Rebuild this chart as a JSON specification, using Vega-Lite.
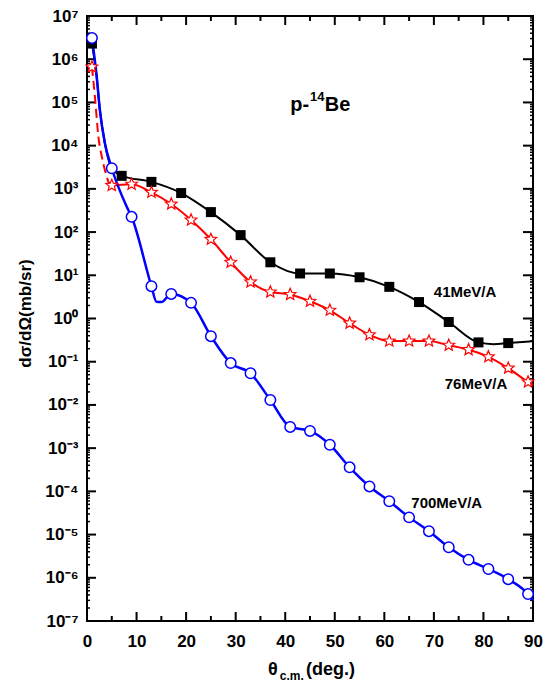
{
"$schema": "https://vega.github.io/schema/vega-lite/v6.json",
"width": 446, "height": 605,
"autosize": {"type": "none"},
"padding": {"left": 87, "top": 16, "right": 21, "bottom": 69},
"background": "white",
"config": {
  "view": {"stroke": "black", "strokeWidth": 2},
  "font": "Liberation Sans",
  "axis": {"domain": false, "ticks": false, "grid": false, "labelColor": "black", "labelFont": "Liberation Sans", "labelFontWeight": "bold", "labelFontSize": 17, "labelFlush": false, "labelOverlap": false, "titleColor": "black"}
},
"datasets": {
  "ticks": [
    {"ax":"x","v":0,"major":1},{"ax":"x","v":5,"major":0},{"ax":"x","v":10,"major":1},{"ax":"x","v":15,"major":0},{"ax":"x","v":20,"major":1},{"ax":"x","v":25,"major":0},{"ax":"x","v":30,"major":1},{"ax":"x","v":35,"major":0},{"ax":"x","v":40,"major":1},{"ax":"x","v":45,"major":0},{"ax":"x","v":50,"major":1},{"ax":"x","v":55,"major":0},{"ax":"x","v":60,"major":1},{"ax":"x","v":65,"major":0},{"ax":"x","v":70,"major":1},{"ax":"x","v":75,"major":0},{"ax":"x","v":80,"major":1},{"ax":"x","v":85,"major":0},{"ax":"x","v":90,"major":1},
    {"ax":"y","v":1e-7,"major":1},{"ax":"y","v":1e-6,"major":1},{"ax":"y","v":1e-5,"major":1},{"ax":"y","v":1e-4,"major":1},{"ax":"y","v":1e-3,"major":1},{"ax":"y","v":1e-2,"major":1},{"ax":"y","v":0.1,"major":1},{"ax":"y","v":1,"major":1},{"ax":"y","v":10,"major":1},{"ax":"y","v":100,"major":1},{"ax":"y","v":1000,"major":1},{"ax":"y","v":1e4,"major":1},{"ax":"y","v":1e5,"major":1},{"ax":"y","v":1e6,"major":1},{"ax":"y","v":1e7,"major":1},
    {"ax":"y","v":2e-7,"major":0},{"ax":"y","v":3e-7,"major":0},{"ax":"y","v":4e-7,"major":0},{"ax":"y","v":5e-7,"major":0},{"ax":"y","v":6e-7,"major":0},{"ax":"y","v":7e-7,"major":0},{"ax":"y","v":8e-7,"major":0},{"ax":"y","v":9e-7,"major":0},
    {"ax":"y","v":2e-6,"major":0},{"ax":"y","v":3e-6,"major":0},{"ax":"y","v":4e-6,"major":0},{"ax":"y","v":5e-6,"major":0},{"ax":"y","v":6e-6,"major":0},{"ax":"y","v":7e-6,"major":0},{"ax":"y","v":8e-6,"major":0},{"ax":"y","v":9e-6,"major":0},
    {"ax":"y","v":2e-5,"major":0},{"ax":"y","v":3e-5,"major":0},{"ax":"y","v":4e-5,"major":0},{"ax":"y","v":5e-5,"major":0},{"ax":"y","v":6e-5,"major":0},{"ax":"y","v":7e-5,"major":0},{"ax":"y","v":8e-5,"major":0},{"ax":"y","v":9e-5,"major":0},
    {"ax":"y","v":2e-4,"major":0},{"ax":"y","v":3e-4,"major":0},{"ax":"y","v":4e-4,"major":0},{"ax":"y","v":5e-4,"major":0},{"ax":"y","v":6e-4,"major":0},{"ax":"y","v":7e-4,"major":0},{"ax":"y","v":8e-4,"major":0},{"ax":"y","v":9e-4,"major":0},
    {"ax":"y","v":2e-3,"major":0},{"ax":"y","v":3e-3,"major":0},{"ax":"y","v":4e-3,"major":0},{"ax":"y","v":5e-3,"major":0},{"ax":"y","v":6e-3,"major":0},{"ax":"y","v":7e-3,"major":0},{"ax":"y","v":8e-3,"major":0},{"ax":"y","v":9e-3,"major":0},
    {"ax":"y","v":0.02,"major":0},{"ax":"y","v":0.03,"major":0},{"ax":"y","v":0.04,"major":0},{"ax":"y","v":0.05,"major":0},{"ax":"y","v":0.06,"major":0},{"ax":"y","v":0.07,"major":0},{"ax":"y","v":0.08,"major":0},{"ax":"y","v":0.09,"major":0},
    {"ax":"y","v":0.2,"major":0},{"ax":"y","v":0.3,"major":0},{"ax":"y","v":0.4,"major":0},{"ax":"y","v":0.5,"major":0},{"ax":"y","v":0.6,"major":0},{"ax":"y","v":0.7,"major":0},{"ax":"y","v":0.8,"major":0},{"ax":"y","v":0.9,"major":0},
    {"ax":"y","v":2,"major":0},{"ax":"y","v":3,"major":0},{"ax":"y","v":4,"major":0},{"ax":"y","v":5,"major":0},{"ax":"y","v":6,"major":0},{"ax":"y","v":7,"major":0},{"ax":"y","v":8,"major":0},{"ax":"y","v":9,"major":0},
    {"ax":"y","v":20,"major":0},{"ax":"y","v":30,"major":0},{"ax":"y","v":40,"major":0},{"ax":"y","v":50,"major":0},{"ax":"y","v":60,"major":0},{"ax":"y","v":70,"major":0},{"ax":"y","v":80,"major":0},{"ax":"y","v":90,"major":0},
    {"ax":"y","v":200,"major":0},{"ax":"y","v":300,"major":0},{"ax":"y","v":400,"major":0},{"ax":"y","v":500,"major":0},{"ax":"y","v":600,"major":0},{"ax":"y","v":700,"major":0},{"ax":"y","v":800,"major":0},{"ax":"y","v":900,"major":0},
    {"ax":"y","v":2000,"major":0},{"ax":"y","v":3000,"major":0},{"ax":"y","v":4000,"major":0},{"ax":"y","v":5000,"major":0},{"ax":"y","v":6000,"major":0},{"ax":"y","v":7000,"major":0},{"ax":"y","v":8000,"major":0},{"ax":"y","v":9000,"major":0},
    {"ax":"y","v":2e4,"major":0},{"ax":"y","v":3e4,"major":0},{"ax":"y","v":4e4,"major":0},{"ax":"y","v":5e4,"major":0},{"ax":"y","v":6e4,"major":0},{"ax":"y","v":7e4,"major":0},{"ax":"y","v":8e4,"major":0},{"ax":"y","v":9e4,"major":0},
    {"ax":"y","v":2e5,"major":0},{"ax":"y","v":3e5,"major":0},{"ax":"y","v":4e5,"major":0},{"ax":"y","v":5e5,"major":0},{"ax":"y","v":6e5,"major":0},{"ax":"y","v":7e5,"major":0},{"ax":"y","v":8e5,"major":0},{"ax":"y","v":9e5,"major":0},
    {"ax":"y","v":2e6,"major":0},{"ax":"y","v":3e6,"major":0},{"ax":"y","v":4e6,"major":0},{"ax":"y","v":5e6,"major":0},{"ax":"y","v":6e6,"major":0},{"ax":"y","v":7e6,"major":0},{"ax":"y","v":8e6,"major":0},{"ax":"y","v":9e6,"major":0}
  ],
  "pts": [
    {"s":"41","theta":1,"xs":2300000},{"s":"41","theta":7,"xs":2000},{"s":"41","theta":13,"xs":1450},{"s":"41","theta":19,"xs":800},{"s":"41","theta":25,"xs":290},{"s":"41","theta":31,"xs":85},{"s":"41","theta":37,"xs":20},{"s":"41","theta":43,"xs":11},{"s":"41","theta":49,"xs":11},{"s":"41","theta":55,"xs":9},{"s":"41","theta":61,"xs":5.4},{"s":"41","theta":67,"xs":2.4},{"s":"41","theta":73,"xs":0.83},{"s":"41","theta":79,"xs":0.28},{"s":"41","theta":85,"xs":0.27},
    {"s":"76","theta":1,"xs":660000},{"s":"76","theta":5,"xs":1200},{"s":"76","theta":9,"xs":1280},{"s":"76","theta":13,"xs":830},{"s":"76","theta":17,"xs":445},{"s":"76","theta":21,"xs":190},{"s":"76","theta":25,"xs":68},{"s":"76","theta":29,"xs":20},{"s":"76","theta":33,"xs":7},{"s":"76","theta":37,"xs":4.1},{"s":"76","theta":41,"xs":3.6},{"s":"76","theta":45,"xs":2.5},{"s":"76","theta":49,"xs":1.55},{"s":"76","theta":53,"xs":0.78},{"s":"76","theta":57,"xs":0.42},{"s":"76","theta":61,"xs":0.30},{"s":"76","theta":65,"xs":0.30},{"s":"76","theta":69,"xs":0.30},{"s":"76","theta":73,"xs":0.24},{"s":"76","theta":77,"xs":0.19},{"s":"76","theta":81,"xs":0.13},{"s":"76","theta":85,"xs":0.071},{"s":"76","theta":89,"xs":0.034},
    {"s":"700","theta":1,"xs":3100000},{"s":"700","theta":5,"xs":3000},{"s":"700","theta":9,"xs":225},{"s":"700","theta":13,"xs":5.6},{"s":"700","theta":17,"xs":3.7},{"s":"700","theta":21,"xs":2.3},{"s":"700","theta":25,"xs":0.39},{"s":"700","theta":29,"xs":0.093},{"s":"700","theta":33,"xs":0.054},{"s":"700","theta":37,"xs":0.013},{"s":"700","theta":41,"xs":0.0031},{"s":"700","theta":45,"xs":0.0025},{"s":"700","theta":49,"xs":0.0012},{"s":"700","theta":53,"xs":0.00036},{"s":"700","theta":57,"xs":0.00013},{"s":"700","theta":61,"xs":5.9e-5},{"s":"700","theta":65,"xs":2.5e-5},{"s":"700","theta":69,"xs":1.2e-5},{"s":"700","theta":73,"xs":5.1e-6},{"s":"700","theta":77,"xs":2.6e-6},{"s":"700","theta":81,"xs":1.6e-6},{"s":"700","theta":85,"xs":9.3e-7},{"s":"700","theta":89,"xs":4.2e-7}
  ],
  "curves": [
    {"c":"41","theta":1,"xs":2300000},{"c":"41","theta":1.95,"xs":400000},{"c":"41","theta":2.6,"xs":66000},{"c":"41","theta":3.6,"xs":11500},{"c":"41","theta":5,"xs":3000},{"c":"41","theta":7,"xs":2000},{"c":"41","theta":13,"xs":1450},{"c":"41","theta":19,"xs":800},{"c":"41","theta":25,"xs":290},{"c":"41","theta":31,"xs":85},{"c":"41","theta":37,"xs":20},{"c":"41","theta":43,"xs":11},{"c":"41","theta":49,"xs":11},{"c":"41","theta":55,"xs":9},{"c":"41","theta":61,"xs":5.4},{"c":"41","theta":67,"xs":2.4},{"c":"41","theta":73,"xs":0.83},{"c":"41","theta":79,"xs":0.28},{"c":"41","theta":82,"xs":0.255},{"c":"41","theta":85,"xs":0.27},{"c":"41","theta":90,"xs":0.30},
    {"c":"76d","theta":1,"xs":660000},{"c":"76d","theta":1.6,"xs":135000},{"c":"76d","theta":2.3,"xs":16000},{"c":"76d","theta":3,"xs":5500},{"c":"76d","theta":4.3,"xs":1450},
    {"c":"76","theta":4.3,"xs":1450},{"c":"76","theta":5,"xs":1200},{"c":"76","theta":9,"xs":1280},{"c":"76","theta":13,"xs":830},{"c":"76","theta":17,"xs":445},{"c":"76","theta":21,"xs":190},{"c":"76","theta":25,"xs":68},{"c":"76","theta":29,"xs":20},{"c":"76","theta":33,"xs":7},{"c":"76","theta":37,"xs":4.1},{"c":"76","theta":41,"xs":3.6},{"c":"76","theta":45,"xs":2.5},{"c":"76","theta":49,"xs":1.55},{"c":"76","theta":53,"xs":0.78},{"c":"76","theta":57,"xs":0.42},{"c":"76","theta":61,"xs":0.30},{"c":"76","theta":65,"xs":0.30},{"c":"76","theta":69,"xs":0.30},{"c":"76","theta":73,"xs":0.24},{"c":"76","theta":77,"xs":0.19},{"c":"76","theta":81,"xs":0.13},{"c":"76","theta":85,"xs":0.071},{"c":"76","theta":89,"xs":0.034},{"c":"76","theta":90,"xs":0.029},
    {"c":"700","theta":1,"xs":3100000},{"c":"700","theta":1.95,"xs":400000},{"c":"700","theta":2.6,"xs":66000},{"c":"700","theta":3.6,"xs":11500},{"c":"700","theta":5,"xs":3000},{"c":"700","theta":8,"xs":390},{"c":"700","theta":9,"xs":225},{"c":"700","theta":13,"xs":5.6},{"c":"700","theta":14,"xs":2.45},{"c":"700","theta":15,"xs":2.4},{"c":"700","theta":17,"xs":3.7},{"c":"700","theta":21,"xs":2.3},{"c":"700","theta":25,"xs":0.39},{"c":"700","theta":29,"xs":0.093},{"c":"700","theta":33,"xs":0.054},{"c":"700","theta":37,"xs":0.013},{"c":"700","theta":41,"xs":0.0031},{"c":"700","theta":45,"xs":0.0025},{"c":"700","theta":49,"xs":0.0012},{"c":"700","theta":53,"xs":0.00036},{"c":"700","theta":57,"xs":0.00013},{"c":"700","theta":61,"xs":5.9e-5},{"c":"700","theta":65,"xs":2.5e-5},{"c":"700","theta":69,"xs":1.2e-5},{"c":"700","theta":73,"xs":5.1e-6},{"c":"700","theta":77,"xs":2.6e-6},{"c":"700","theta":81,"xs":1.6e-6},{"c":"700","theta":85,"xs":9.3e-7},{"c":"700","theta":89,"xs":4.2e-7},{"c":"700","theta":90,"xs":3.0e-7}
  ],
  "labels": [
    {"g":"ser","theta":76.3,"xs":4.1,"txt":"41MeV/A"},
    {"g":"ser","theta":78.5,"xs":0.0297,"txt":"76MeV/A"},
    {"g":"ser","theta":72.6,"xs":5.37e-5,"txt":"700MeV/A"},
    {"g":"big","theta":41.0,"xs":63400,"txt":"p-"},
    {"g":"sup","theta":45.0,"xs":108000,"txt":"14"},
    {"g":"big","theta":48.0,"xs":63400,"txt":"Be"},
    {"g":"xt","theta":36.5,"xs":5.62e-9,"txt":"θ"},
    {"g":"sub","theta":38.9,"xs":4.31e-9,"txt":"c.m."},
    {"g":"xt","theta":44.2,"xs":5.62e-9,"txt":"(deg.)"}
  ]
},
"resolve": {"axis": {"x": "independent", "y": "independent"}},
"layer": [
  {
    "data": {"name": "curves"},
    "transform": [{"filter": "datum.c == '41'"}],
    "mark": {"type": "line", "color": "black", "strokeWidth": 2, "interpolate": "monotone"},
    "encoding": {
      "x": {"field": "theta", "type": "quantitative", "scale": {"domain": [0, 90], "nice": false, "zero": false},
        "axis": {"orient": "bottom", "values": [0,10,20,30,40,50,60,70,80,90], "ticks": false, "labelPadding": 12, "title": null}},
      "y": {"field": "xs", "type": "quantitative", "scale": {"type": "log", "domain": [1e-7, 1e7], "nice": false},
        "axis": {"orient": "left", "values": [1e-7,1e-6,1e-5,1e-4,1e-3,1e-2,1e-1,1,10,100,1000,10000,100000,1000000,10000000], "ticks": false, "labelPadding": 9,
          "labelExpr": "'10' + (round(log(datum.value)/LN10) < 0 ? '⁻' : '') + ['⁰','¹','²','³','⁴','⁵','⁶','⁷','⁸','⁹'][abs(round(log(datum.value)/LN10))]",
          "title": "dσ/dΩ(mb/sr)", "titleFont": "Liberation Sans", "titleFontSize": 17, "titleFontWeight": "bold", "titleX": -62, "titleY": 297, "titleAngle": -90, "titleAlign": "center", "titleBaseline": "middle"}},
      "order": {"field": "theta", "type": "quantitative"}
    }
  },
  {
    "data": {"name": "ticks"},
    "transform": [{"filter": "datum.ax == 'x'"}],
    "mark": {"type": "tick", "orient": "vertical", "clip": true, "color": "black", "thickness": 2, "opacity": 1},
    "encoding": {
      "x": {"field": "v", "type": "quantitative", "axis": null},
      "y": {"datum": 1e-7, "type": "quantitative", "axis": null},
      "size": {"condition": {"test": "datum.major == 1", "value": 18}, "value": 10}
    }
  },
  {
    "data": {"name": "ticks"},
    "transform": [{"filter": "datum.ax == 'x'"}],
    "mark": {"type": "tick", "orient": "vertical", "clip": true, "color": "black", "thickness": 2, "opacity": 1},
    "encoding": {
      "x": {"field": "v", "type": "quantitative", "axis": null},
      "y": {"datum": 10000000, "type": "quantitative", "axis": null},
      "size": {"condition": {"test": "datum.major == 1", "value": 18}, "value": 10}
    }
  },
  {
    "data": {"name": "ticks"},
    "transform": [{"filter": "datum.ax == 'y' && datum.major == 1"}],
    "mark": {"type": "tick", "orient": "horizontal", "clip": true, "color": "black", "thickness": 2, "opacity": 1, "size": 18},
    "encoding": {
      "x": {"datum": 0, "type": "quantitative", "axis": null},
      "y": {"field": "v", "type": "quantitative", "axis": null}
    }
  },
  {
    "data": {"name": "ticks"},
    "transform": [{"filter": "datum.ax == 'y' && datum.major == 0"}],
    "mark": {"type": "tick", "orient": "horizontal", "clip": true, "color": "black", "thickness": 1.5, "opacity": 1, "size": 6},
    "encoding": {
      "x": {"datum": 0, "type": "quantitative", "axis": null},
      "y": {"field": "v", "type": "quantitative", "axis": null}
    }
  },
  {
    "data": {"name": "ticks"},
    "transform": [{"filter": "datum.ax == 'y' && datum.major == 1"}],
    "mark": {"type": "tick", "orient": "horizontal", "clip": true, "color": "black", "thickness": 2, "opacity": 1, "size": 20},
    "encoding": {
      "x": {"datum": 90, "type": "quantitative", "axis": null},
      "y": {"field": "v", "type": "quantitative", "axis": null}
    }
  },
  {
    "data": {"name": "ticks"},
    "transform": [{"filter": "datum.ax == 'y' && datum.major == 0"}],
    "mark": {"type": "tick", "orient": "horizontal", "clip": true, "color": "black", "thickness": 1.5, "opacity": 1, "size": 6},
    "encoding": {
      "x": {"datum": 90, "type": "quantitative", "axis": null},
      "y": {"field": "v", "type": "quantitative", "axis": null}
    }
  },
  {
    "data": {"name": "curves"},
    "transform": [{"filter": "datum.c == '76'"}],
    "mark": {"type": "line", "color": "#ff0000", "strokeWidth": 2, "interpolate": "monotone"},
    "encoding": {
      "x": {"field": "theta", "type": "quantitative", "axis": null},
      "y": {"field": "xs", "type": "quantitative", "axis": null},
      "order": {"field": "theta", "type": "quantitative"}
    }
  },
  {
    "data": {"name": "curves"},
    "transform": [{"filter": "datum.c == '76d'"}],
    "mark": {"type": "line", "color": "#ff0000", "strokeWidth": 2, "strokeDash": [9, 5], "interpolate": "monotone"},
    "encoding": {
      "x": {"field": "theta", "type": "quantitative", "axis": null},
      "y": {"field": "xs", "type": "quantitative", "axis": null},
      "order": {"field": "theta", "type": "quantitative"}
    }
  },
  {
    "data": {"name": "curves"},
    "transform": [{"filter": "datum.c == '700'"}],
    "mark": {"type": "line", "color": "#0000ff", "strokeWidth": 2.5, "interpolate": "monotone"},
    "encoding": {
      "x": {"field": "theta", "type": "quantitative", "axis": null},
      "y": {"field": "xs", "type": "quantitative", "axis": null},
      "order": {"field": "theta", "type": "quantitative"}
    }
  },
  {
    "data": {"name": "pts"},
    "transform": [{"filter": "datum.s == '41'"}],
    "mark": {"type": "point", "shape": "square", "filled": true, "color": "black", "size": 100, "opacity": 1},
    "encoding": {
      "x": {"field": "theta", "type": "quantitative", "axis": null},
      "y": {"field": "xs", "type": "quantitative", "axis": null}
    }
  },
  {
    "data": {"name": "pts"},
    "transform": [{"filter": "datum.s == '76'"}],
    "mark": {"type": "point", "shape": "M0,-1L0.265,-0.364L0.951,-0.309L0.428,0.139L0.588,0.809L0,0.45L-0.588,0.809L-0.428,0.139L-0.951,-0.309L-0.265,-0.364Z", "filled": false, "fill": "white", "fillOpacity": 1, "stroke": "#ff0000", "strokeWidth": 1.2, "size": 150, "opacity": 1},
    "encoding": {
      "x": {"field": "theta", "type": "quantitative", "axis": null},
      "y": {"field": "xs", "type": "quantitative", "axis": null}
    }
  },
  {
    "data": {"name": "pts"},
    "transform": [{"filter": "datum.s == '700'"}],
    "mark": {"type": "point", "shape": "circle", "filled": false, "fill": "white", "fillOpacity": 1, "stroke": "#0000ff", "strokeWidth": 1.5, "size": 110, "opacity": 1},
    "encoding": {
      "x": {"field": "theta", "type": "quantitative", "axis": null},
      "y": {"field": "xs", "type": "quantitative", "axis": null}
    }
  },
  {
    "data": {"name": "labels"},
    "transform": [{"filter": "datum.g == 'ser'"}],
    "mark": {"type": "text", "font": "Liberation Sans", "fontWeight": "bold", "fontSize": 15, "align": "center", "baseline": "middle", "color": "black"},
    "encoding": {
      "x": {"field": "theta", "type": "quantitative", "axis": null},
      "y": {"field": "xs", "type": "quantitative", "axis": null},
      "text": {"field": "txt"}
    }
  },
  {
    "data": {"name": "labels"},
    "transform": [{"filter": "datum.g == 'big'"}],
    "mark": {"type": "text", "font": "Liberation Sans", "fontWeight": "bold", "fontSize": 20, "align": "left", "baseline": "alphabetic", "color": "black"},
    "encoding": {
      "x": {"field": "theta", "type": "quantitative", "axis": null},
      "y": {"field": "xs", "type": "quantitative", "axis": null},
      "text": {"field": "txt"}
    }
  },
  {
    "data": {"name": "labels"},
    "transform": [{"filter": "datum.g == 'sup'"}],
    "mark": {"type": "text", "font": "Liberation Sans", "fontWeight": "bold", "fontSize": 13, "align": "left", "baseline": "alphabetic", "color": "black"},
    "encoding": {
      "x": {"field": "theta", "type": "quantitative", "axis": null},
      "y": {"field": "xs", "type": "quantitative", "axis": null},
      "text": {"field": "txt"}
    }
  },
  {
    "data": {"name": "labels"},
    "transform": [{"filter": "datum.g == 'xt'"}],
    "mark": {"type": "text", "font": "Liberation Sans", "fontWeight": "bold", "fontSize": 18, "align": "left", "baseline": "alphabetic", "color": "black"},
    "encoding": {
      "x": {"field": "theta", "type": "quantitative", "axis": null},
      "y": {"field": "xs", "type": "quantitative", "axis": null},
      "text": {"field": "txt"}
    }
  },
  {
    "data": {"name": "labels"},
    "transform": [{"filter": "datum.g == 'sub'"}],
    "mark": {"type": "text", "font": "Liberation Sans", "fontWeight": "bold", "fontSize": 12, "align": "left", "baseline": "alphabetic", "color": "black"},
    "encoding": {
      "x": {"field": "theta", "type": "quantitative", "axis": null},
      "y": {"field": "xs", "type": "quantitative", "axis": null},
      "text": {"field": "txt"}
    }
  }
]
}
